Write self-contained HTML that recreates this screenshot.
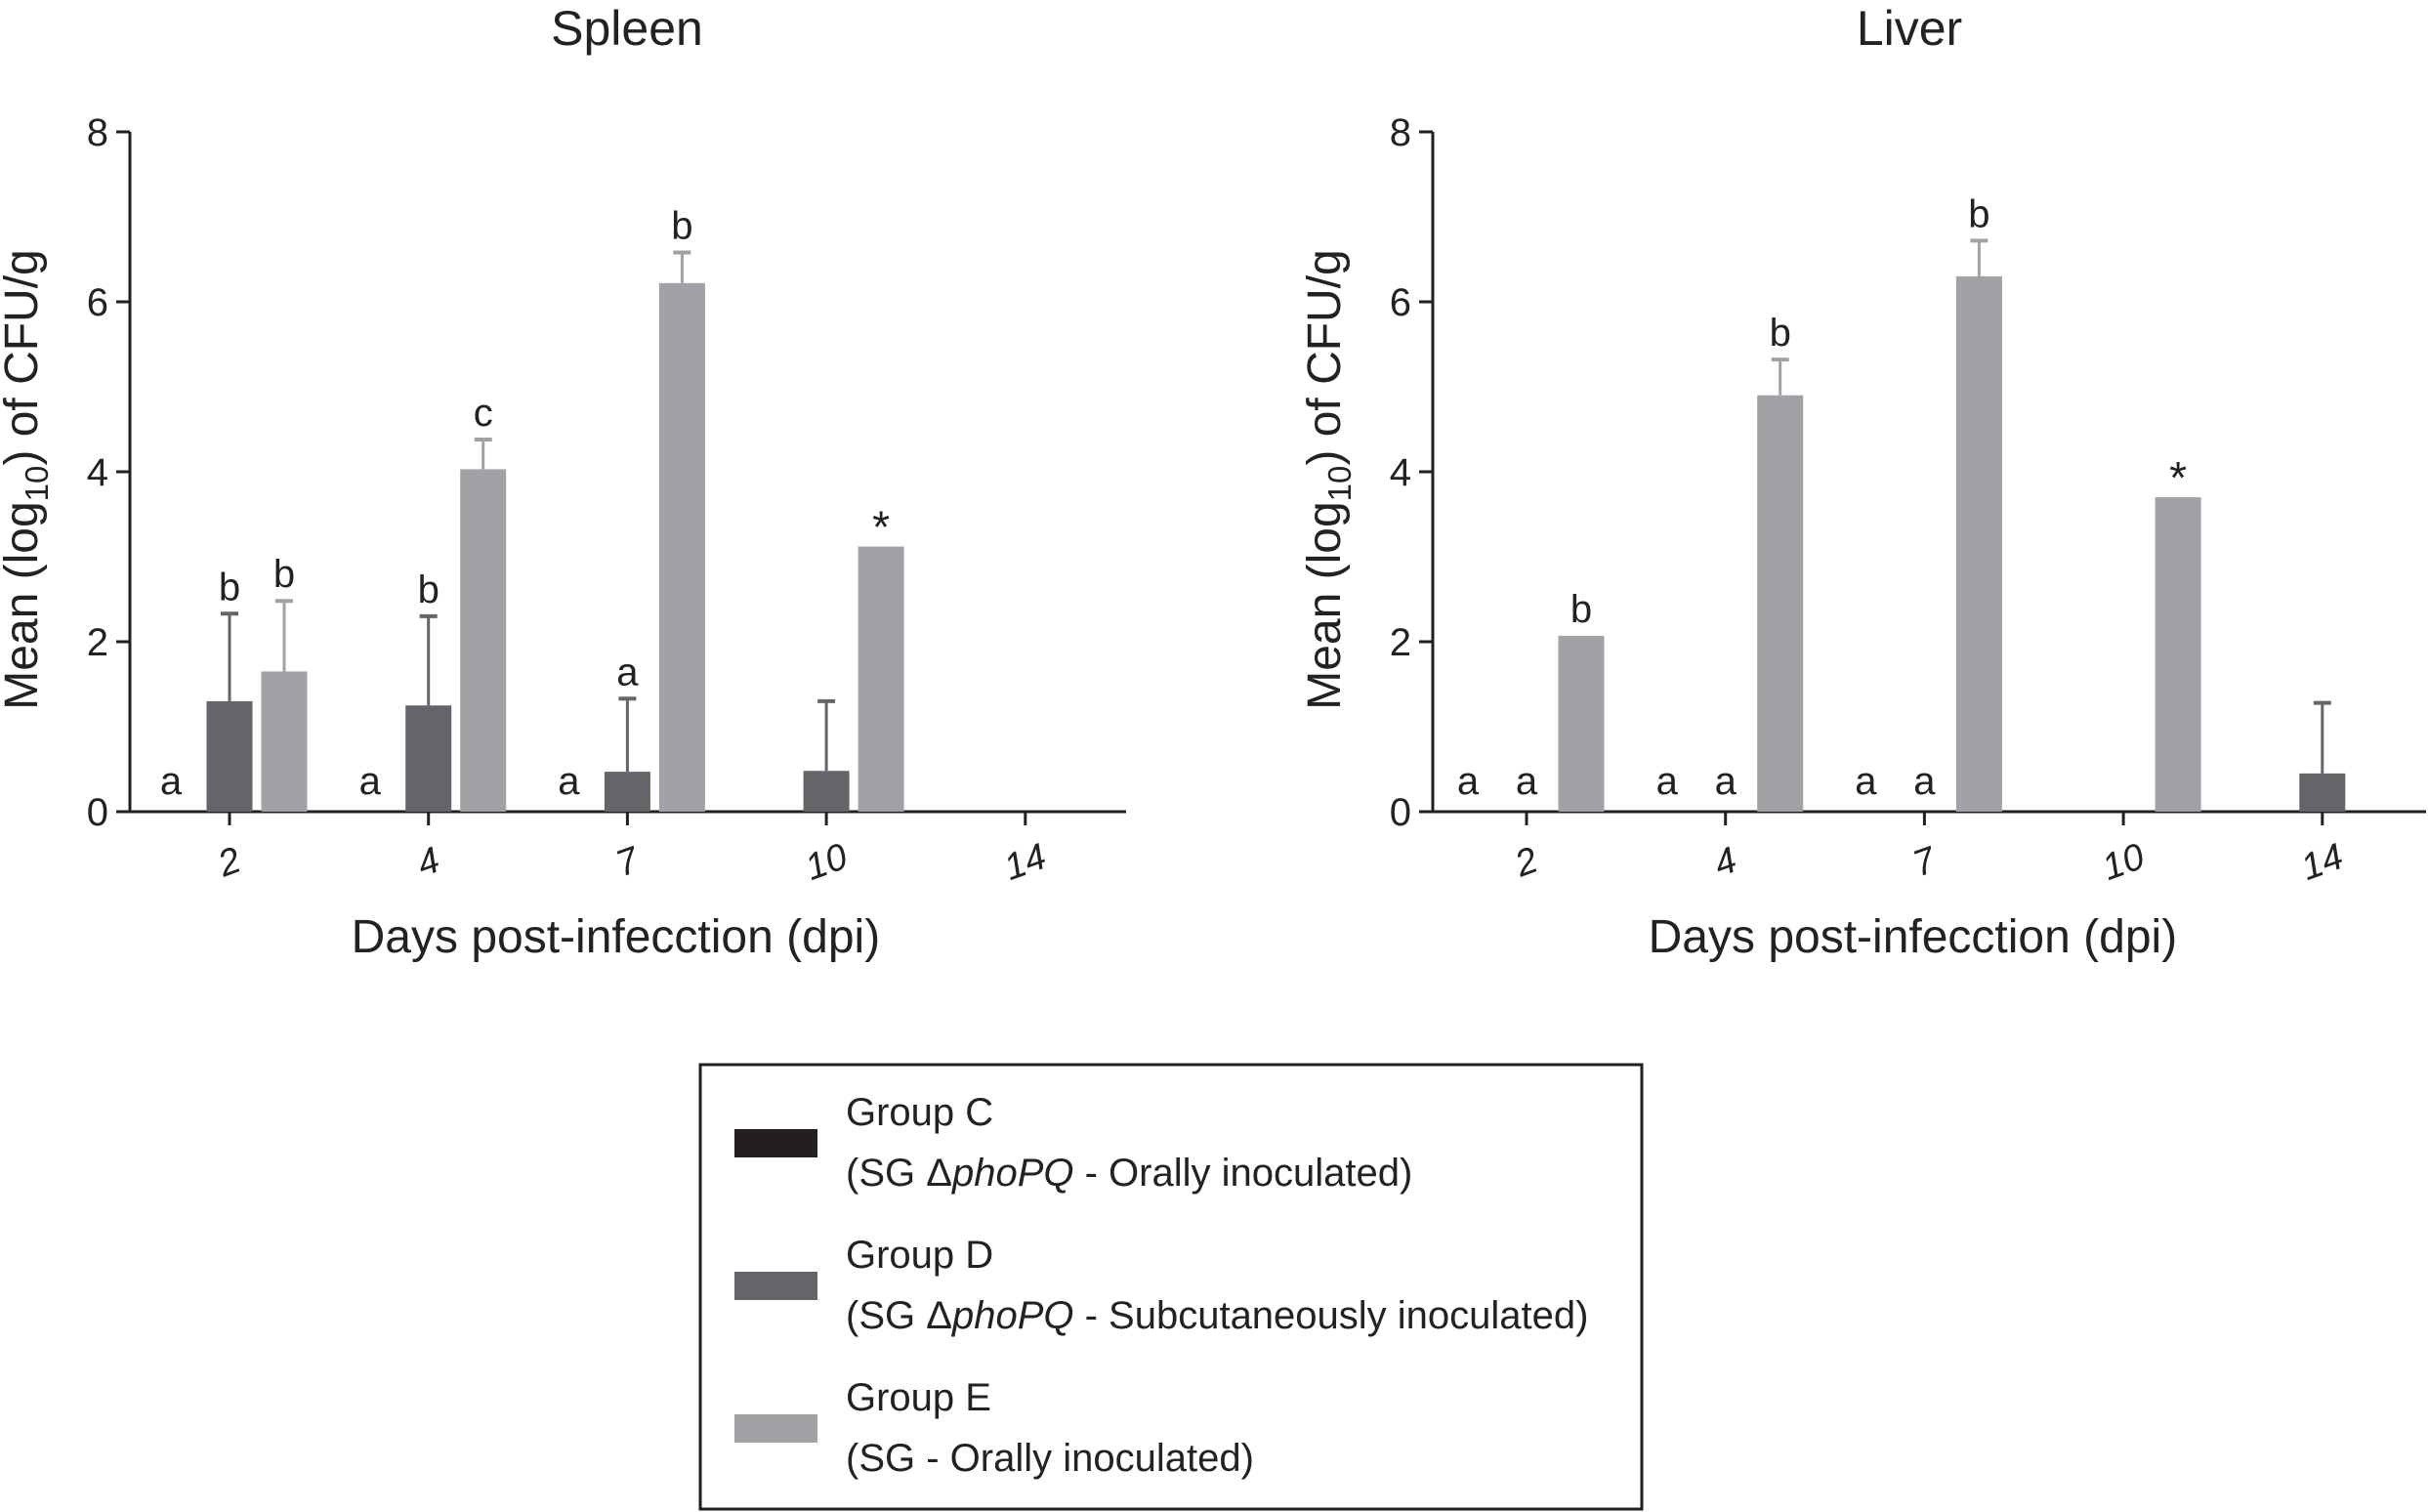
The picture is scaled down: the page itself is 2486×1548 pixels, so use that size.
<!DOCTYPE html>
<html><head><meta charset="utf-8">
<style>
body{margin:0;background:#fff;}
svg{display:block;font-family:"Liberation Sans",Arial,sans-serif;}
</style></head>
<body>
<svg id="fig" width="2486" height="1548" viewBox="0 0 2486 1548"></svg>
<script>
const days = ["2","4","7","10","14"];
const yTicks = [0,2,4,6,8];
const spleenC = [0,0,0,0,0];
const spleenD = [1.3,1.25,0.47,0.48,0];
const spleenDErr = [2.33,2.3,1.33,1.3,null];
const spleenE = [1.65,4.03,6.22,3.12,0];
const spleenEErr = [2.48,4.38,6.58,null,null];
const spleenLabelsC = ["a","a","a","",""];
const spleenLabelsD = ["b","b","a","",""];
const spleenLabelsE = ["b","c","b","*",""];
const liverC = [0,0,0,0,0];
const liverD = [0,0,0,0,0.45];
const liverDErr = [null,null,null,null,1.28];
const liverE = [2.07,4.9,6.3,3.7,0];
const liverEErr = [null,5.32,6.72,null,null];
const liverLabelsC = ["a","a","a","",""];
const liverLabelsD = ["a","a","a","",""];
const liverLabelsE = ["b","b","b","*",""];

const NS="http://www.w3.org/2000/svg";
const svg=document.getElementById('fig');
function mk(tag,attrs,parent){const e=document.createElementNS(NS,tag);for(const k in attrs)e.setAttribute(k,attrs[k]);(parent||svg).appendChild(e);return e;}
const COLORS={C:"#231f20",D:"#646569",E:"#a1a2a6"};
const y0=831,y8=135;
function yS(v){return y0-(v/8)*(y0-y8);}

function panel(id,title,ax,axEnd,t0,titleX,C,D,DE,E,EE,LC,LD,LE){
  const g=mk('g',{});
  
  
  const step=203.7;
  function xS(i){return t0+i*step;}
  const tt=mk('text',{x:titleX,y:46,'font-size':50,'text-anchor':'middle',fill:'#222'},g);
  tt.textContent=title;
  
  
  const ya=mk('line',{x1:ax,y1:y8,x2:ax,y2:y0+1.5,stroke:'#231f20','stroke-width':3},g);
  
  
  const xa=mk('line',{x1:ax-1.5,y1:y0,x2:axEnd,y2:y0,stroke:'#231f20','stroke-width':3},g);
  
  
  yTicks.forEach(v=>{
    mk('line',{x1:ax-14,y1:yS(v),x2:ax,y2:yS(v),stroke:'#231f20','stroke-width':3},g);
    const t=mk('text',{x:ax-22,y:yS(v)+14,'font-size':40,'text-anchor':'end',fill:'#222'},g);
    t.textContent=v;
    
    
  });
  days.forEach((d,i)=>{
    const x=xS(i);
    mk('line',{x1:x,y1:y0,x2:x,y2:y0+14,stroke:'#231f20','stroke-width':3},g);
    const t=mk('text',{x:x,y:y0+64,'font-size':38,'text-anchor':'middle',fill:'#222',transform:`rotate(-20 ${x} ${y0+52})`,'font-style':'italic'},g);
    t.textContent=d;
    
    
  });
  const xt=mk('text',{x:xS(2)-12,y:975,'font-size':48,'text-anchor':'middle',fill:'#222'},g);
  xt.textContent="Days post-infecction (dpi)";
  
  
  const yt=mk('text',{x:0,y:0,'font-size':48,'text-anchor':'middle',fill:'#222',transform:`translate(${ax-95} ${(y0+y8)/2+8}) rotate(-90)`},g);
  yt.innerHTML='Mean (log<tspan font-size="33" dy="11">10</tspan><tspan dy="-11">) of CFU/g</tspan>';
  
  
  const bw=47, offs={C:-60,D:0,E:56};
  const series=[["C",C,null,LC],["D",D,DE,LD],["E",E,EE,LE]];
  series.forEach(([k,vals,errs,labs])=>{
    vals.forEach((v,i)=>{
      const cx=xS(i)+offs[k];
      let top=yS(v);
      if(v>0){
        if(errs&&errs[i]!=null){
          const ey=yS(errs[i]);
          mk('line',{x1:cx,y1:ey,x2:cx,y2:top,stroke:COLORS[k],'stroke-width':3},g);
          mk('line',{x1:cx-9,y1:ey,x2:cx+9,y2:ey,stroke:COLORS[k],'stroke-width':4},g);
          top=ey;
        }
        const r=mk('rect',{x:cx-bw/2,y:yS(v),width:bw,height:y0-yS(v),fill:COLORS[k]},g);
        
        
      }
      if(labs[i]){
        const isStar=labs[i]==='*';
        const t=mk('text',{x:cx,y:v>0?top-(isStar?4:14):y0-18,'font-size':isStar?46:40,'text-anchor':'middle',fill:'#222'},g);
        t.textContent=labs[i];
        
        
      }
    });
  });
}
panel('spleen','Spleen',133,1153,235,642,spleenC,spleenD,spleenDErr,spleenE,spleenEErr,spleenLabelsC,spleenLabelsD,spleenLabelsE);
panel('liver','Liver',1467,2484,1563,1955,liverC,liverD,liverDErr,liverE,liverEErr,liverLabelsC,liverLabelsD,liverLabelsE);

const lg=mk('g',{});


mk('rect',{x:717,y:1090,width:964,height:455,fill:'none',stroke:'#231f20','stroke-width':3},lg);
const entries=[["C","Group C","(SG Δ<tspan font-style='italic'>phoPQ</tspan> - Orally inoculated)",1156],
["D","Group D","(SG Δ<tspan font-style='italic'>phoPQ</tspan> - Subcutaneously inoculated)",1302],
["E","Group E","(SG - Orally inoculated)",1448]];
entries.forEach(([k,a,b,y])=>{
  const s=mk('rect',{x:752,y:y,width:85,height:29,fill:COLORS[k]},lg);
  
  
  const t1=mk('text',{x:866,y:y-4,'font-size':40,fill:'#222'},lg);
  t1.textContent=a;
  
  
  const t2=mk('text',{x:866,y:y+58,'font-size':40,fill:'#222'},lg);
  t2.innerHTML=b;
  
  
});
</script>
</body></html>
